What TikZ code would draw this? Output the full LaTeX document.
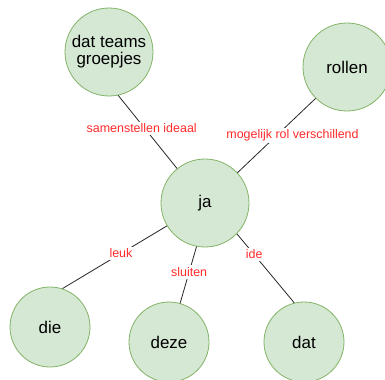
\documentclass[tikz,border=0pt]{standalone}
\usepackage{fontspec}
\setmainfont{Liberation Sans}
\definecolor{circfill}{HTML}{D5E8D4}
\definecolor{circline}{HTML}{82B366}
\definecolor{lblred}{HTML}{FF2A2A}
\begin{document}
\begin{tikzpicture}[x=1bp,y=-1bp,
  bubble/.style={circle,draw=circline,fill=circfill,line width=0.8bp,inner sep=0pt,
    font=\fontsize{17}{19}\selectfont,align=center},
  big/.style={bubble,minimum size=88bp},
  small/.style={bubble,minimum size=80bp},
  link/.style={draw=black!85,line width=0.8bp},
  lbl/.style={fill=white,text=lblred,inner sep=2bp,font=\fontsize{12.5}{14}\selectfont}]
\useasboundingbox (0,0) rectangle (385,380);
\node[big] (teams) at (109,52) {dat teams\\[-2bp]groepjes};
\node[big] (rollen) at (347,67) {rollen};
\node[big] (ja) at (205,203) {ja};
\node[small] (die) at (50,327) {die};
\node[small] (deze) at (169,342) {deze};
\node[small] (dat) at (304,342) {dat};
% connectors, labels sit on a white patch over the line
\draw[link] (teams.282) -- node[lbl,pos=0.45,xshift=-3bp] {samenstellen ideaal} (ja.129);
\draw[link] (rollen.225) -- node[lbl,pos=0.5,xshift=16bp] {mogelijk rol verschillend} (ja.43);
\draw[link] (ja.211) -- node[lbl,pos=0.44] {leuk} (die.72);
\draw[link] (ja.259) -- node[lbl,pos=0.45] {sluiten} (deze.74);
\draw[link] (ja.316) -- node[lbl,pos=0.3] {ide} (dat.104);
\end{tikzpicture}
\end{document}
